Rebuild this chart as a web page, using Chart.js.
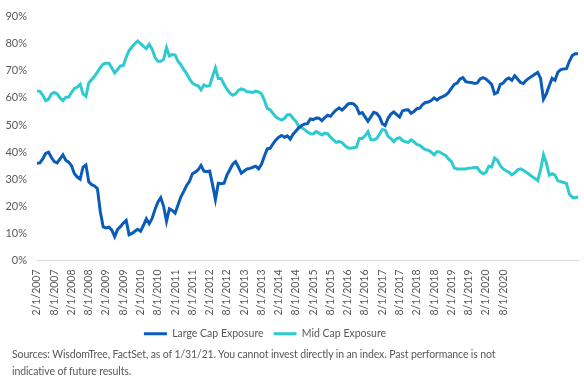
<!DOCTYPE html>
<html>
<head>
<meta charset="utf-8">
<script src="https://cdn.jsdelivr.net/npm/chart.js@4.4.1/dist/chart.umd.min.js"></script>
<style>
  html, body { margin: 0; padding: 0; background: #fff; }
  #wrap { position: relative; width: 584px; height: 389px; overflow: hidden; }
  #c { position: absolute; left: 0; top: 0; }
  #note { position: absolute; left: 12px; top: 346px; font-family: Lato, "Open Sans", sans-serif; font-size: 10.5px; letter-spacing: -0.12px; line-height: 16.5px; color: #595959; margin: 0; white-space: nowrap; }
</style>
</head>
<body>
<div id="wrap">
  <canvas id="c" width="584" height="349"></canvas>
  <p id="note">Sources: WisdomTree, FactSet, as of 1/31/21. You cannot invest directly in an index. Past performance is not<br>indicative of future results.</p>
</div>
<script>
// Tick labels shown every 6th observation on the category axis
const tickLabels = [
  "2/1/2007","8/1/2007","2/1/2008","8/1/2008","2/1/2009","8/1/2009","2/1/2010","8/1/2010",
  "2/1/2011","8/1/2011","2/1/2012","8/1/2012","2/1/2013","8/1/2013","2/1/2014","8/1/2014",
  "2/1/2015","8/1/2015","2/1/2016","8/1/2016","2/1/2017","8/1/2017","2/1/2018","8/1/2018",
  "2/1/2019","8/1/2019","2/1/2020","8/1/2020"
];
const labelEvery = 6;

// Large Cap Exposure (%)
const largeCap = [
  35.9,36,37.5,39.5,40,38,36.5,36,37.5,39,
  37,36.3,35,32,30.8,30,34.5,35.3,29,28,
  27.5,26.5,18,12.4,12,12.3,11.2,8.8,11.5,12.5,
  13.8,14.8,9.5,10,10.8,11.5,10.8,13,15.4,13.6,
  15.5,18.8,21.5,23.2,20,14.5,19.1,18.5,17.5,20.5,
  23.5,25.5,27.7,29.2,32,32.6,33.5,35.1,33,32.8,
  33,28,22.5,28.5,28.3,28.5,31.5,33.5,35.5,36.5,
  34.5,32.2,33,33.8,34,34.4,34.8,33.8,35.5,38.5,
  41.2,41.4,43,44.5,45.5,46.1,45.5,46,44.8,46.6,
  47.8,49,49.8,50.4,50.5,52.2,52,52.6,52.5,51.6,
  52.7,53.6,53.2,54.5,55.6,56.3,55.5,56.5,57.7,58,
  57.8,56.8,54.2,54.6,53,51.4,53,54.7,54.3,53,
  50.5,49.8,52.5,54,54.8,53.8,52.9,55.2,55.5,55.6,
  54.3,55,56,56.2,57.5,58.3,58.5,59,60,59.2,
  60,60.5,61,62,63.5,65,65.5,67,67.5,66,
  65.8,65.7,65.3,65.5,67,67.5,67,66,65,61.5,
  62,65,65.5,66.8,67.3,66.5,68.2,67,65.7,65.3,
  66.5,67.3,68,68.7,69.4,67.2,59.5,61.5,64.5,67.2,
  66.5,69.5,70.4,70.7,70.8,73.5,75.6,76.3,76.3
];

// Mid Cap Exposure (%)
const midCap = [
  62.6,62.4,61,59,59.5,61.5,62,61.5,60,59,
  60.2,60.3,62,63.5,64,65,61.5,60.6,65.5,66.8,
  68,69.5,71.2,72.5,72.8,72.8,71,69.2,70.5,71.8,
  72,75,77.5,78.8,80,81,80,79,78.2,79.8,
  78,75,73.5,73.5,74.2,78.5,75.5,76,75.8,73.5,
  72.2,70.5,69,67,65.5,64.8,64.5,63,64.8,64.3,
  64.5,68,71,67.2,67.2,65,63.2,61.8,61,61.5,
  62.8,63.3,63,62.3,62.2,62,62.5,62.2,61.5,59.2,
  56.1,55.6,54.3,53,52.3,51.8,52.4,53.8,53.8,52.4,
  51.3,49.5,49,48.3,47.4,46.8,46.7,47.6,47,46.3,
  47,46.8,45.5,44.5,43.6,44,43.5,42.4,41.6,41.4,
  41.6,41.8,45,45,46,47.5,44.6,44.5,45,46.5,
  48.3,48.1,45.8,45,43.8,45,45.3,44.3,43.8,43.6,
  44.5,43.8,42.8,42.5,41.6,40.9,40.7,40,39,40.2,
  40,39.3,38.8,37.5,36.5,34.2,33.8,33.8,33.8,33.8,
  34,34.1,34.3,34.3,32.8,32,32.5,34.8,34.5,37.8,
  37,35,33.8,33.1,32.6,31.6,32.3,33.5,33.8,33.3,
  32.6,31.8,31,30.3,29.5,33.5,39,36,31.5,32,
  31.5,29.4,29.1,28.8,28.4,24.5,23.3,23.2,23.4
];

const categories = largeCap.map((_, i) =>
  (i % labelEvery === 0 && tickLabels[i / labelEvery]) ? tickLabels[i / labelEvery] : "");

const FONT = "Lato, 'Open Sans', sans-serif";
const GREY = "#595959";

const shiftLegend = {
  id: "shiftLegend",
  afterLayout(chart) {
    if (chart.legend) { chart.legend.left -= 24; chart.legend.right -= 24; }
  }
};

new Chart(document.getElementById("c"), {
  type: "line",
  data: {
    labels: categories,
    datasets: [
      { label: "Large Cap Exposure", data: largeCap, borderColor: "#0A5CB8", backgroundColor: "#0A5CB8",
        borderWidth: 3, pointRadius: 0, tension: 0 },
      { label: "Mid Cap Exposure", data: midCap, borderColor: "#2DCAD0", backgroundColor: "#2DCAD0",
        borderWidth: 3, pointRadius: 0, tension: 0 }
    ]
  },
  options: {
    responsive: false,
    animation: false,
    layout: { padding: { top: 10, left: 0, right: 6, bottom: 0 } },
    plugins: {
      tooltip: { enabled: false },
      legend: {
        position: "bottom",
        labels: {
          usePointStyle: true, pointStyle: "line", pointStyleWidth: 23,
          font: { family: FONT, size: 10.5 }, color: GREY, padding: 10
        }
      }
    },
    scales: {
      x: {
        offset: false,
        grid: { display: false, drawTicks: false },
        border: { display: true, color: "#D9D9D9", width: 1 },
        ticks: {
          autoSkip: false, minRotation: 90, maxRotation: 90, padding: 9,
          font: { family: FONT, size: 10.5 }, color: GREY
        },
        afterFit(s) { s.height = 58; s.paddingLeft = 0; s.paddingRight = 0; }
      },
      y: {
        min: 0, max: 90,
        grid: { display: false, drawTicks: false },
        border: { display: false },
        ticks: {
          stepSize: 10, padding: 10,
          font: { family: FONT, size: 11 }, color: GREY,
          callback: v => v + "%"
        },
        afterFit(s) { s.width = 37; }
      }
    }
  },
  plugins: [shiftLegend]
});
</script>
</body>
</html>
